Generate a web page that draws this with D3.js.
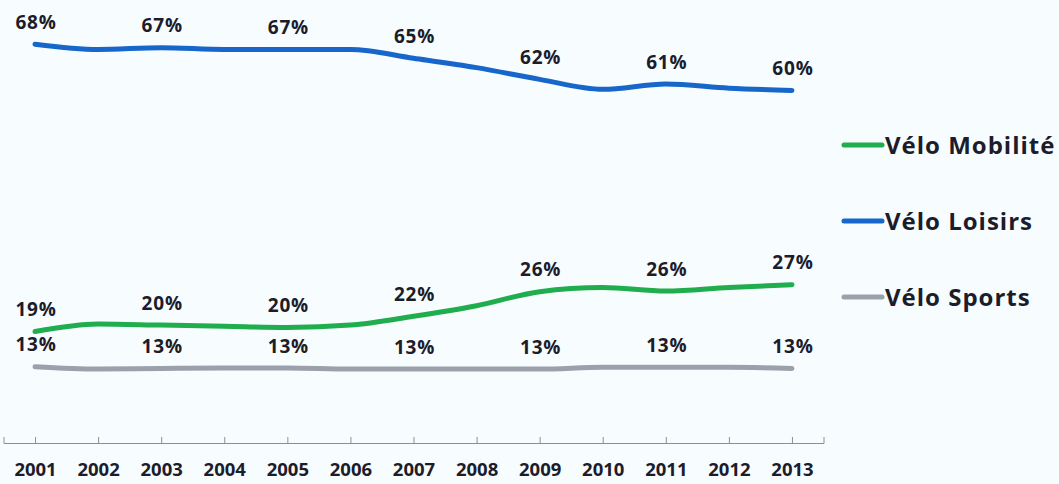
<!DOCTYPE html>
<html>
<head>
<meta charset="utf-8">
<title>Vélo</title>
<script src="https://cdn.jsdelivr.net/npm/d3@7"></script>
<style>
  body { margin: 0; background: #f7fcff; }
  svg { display: block; }
  text { font-family: "Open Sans", Lato, sans-serif; font-weight: bold; fill: #1c1c2a; }
</style>
</head>
<body>
<svg id="chart" width="1059" height="484"></svg>
<script>
// data
const years = ["2001","2002","2003","2004","2005","2006","2007","2008","2009","2010","2011","2012","2013"];
const loisirs  = [68.0, 67.1, 67.4, 67.1, 67.1, 67.1, 65.6, 64.0, 62.0, 60.3, 61.2, 60.5, 60.1];
const mobilite = [19.0, 20.3, 20.1, 19.9, 19.7, 20.1, 21.6, 23.4, 25.8, 26.5, 25.9, 26.5, 27.0];
const sports   = [13.0, 12.6, 12.7, 12.8, 12.8, 12.6, 12.6, 12.6, 12.6, 12.9, 12.9, 12.9, 12.7];
const labelYears = ["2001","2003","2005","2007","2009","2011","2013"];
const loisirsLabels  = ["68%","67%","67%","65%","62%","61%","60%"];
const mobiliteLabels = ["19%","20%","20%","22%","26%","26%","27%"];
const sportsLabels   = ["13%","13%","13%","13%","13%","13%","13%"];

const series = [
  {name: "Vélo Mobilité", values: mobilite, labels: mobiliteLabels, color: "#1fad4e"},
  {name: "Vélo Loisirs",  values: loisirs,  labels: loisirsLabels,  color: "#1766c9"},
  {name: "Vélo Sports",   values: sports,   labels: sportsLabels,   color: "#9aa1ab"}
];

const svg = d3.select("#chart");

let x = d3.scalePoint()
  .domain(years)
  .range([3.5, 823.5])
  .padding(0.5);

let y = d3.scaleLinear()
  .domain([0, 70])
  .range([443, 443 - 70 * 5.865]);

// axis
let axis = svg.append("g")
  .attr("transform", "translate(0,443)")
  .call(d3.axisBottom(x).tickSizeInner(-6).tickSizeOuter(-6).tickPadding(20));
axis.select(".domain").attr("stroke", "#8a9096");
axis.selectAll(".tick line").attr("stroke", "#8a9096");
axis.selectAll(".tick text")
  .attr("font-family", "'Open Sans', sans-serif")
  .attr("font-weight", "bold")
  .attr("font-size", "18.5px")
  .attr("fill", "#1c1c2a");

const line = d3.line()
  .x(function(d, i){ return x(years[i]); })
  .y(function(d){ return y(d); })
  .curve(d3.curveMonotoneX);

svg.selectAll("path.serie")
  .data(series)
  .enter()
  .append("path")
  .attr("class", "serie")
  .attr("d", function(d){ return line(d.values); })
  .attr("fill", "none")
  .attr("stroke", function(d){ return d.color; })
  .attr("stroke-width", 5)
  .attr("stroke-linecap", "round")
  .attr("stroke-linejoin", "round");

// value labels on odd years
series.forEach(function(s){
  svg.selectAll(null)
    .data(s.labels)
    .enter()
    .append("text")
    .text(function(d){ return d; })
    .attr("x", function(d, i){ return x(labelYears[i]) + 1; })
    .attr("y", function(d, i){ return y(s.values[years.indexOf(labelYears[i])]) - 22; })
    .attr("dy", "0.35em")
    .attr("text-anchor", "middle")
    .attr("font-size", "19px")
    .attr("letter-spacing", "0.8px");
});

// legend
let legend = svg.selectAll("g.legend")
  .data(series)
  .enter()
  .append("g")
  .attr("class", "legend")
  .attr("transform", function(d, i){ return "translate(844," + (145 + i * 76) + ")"; });

legend.append("line")
  .attr("x1", 0).attr("x2", 38)
  .attr("stroke", function(d){ return d.color; })
  .attr("stroke-width", 5)
  .attr("stroke-linecap", "round");

legend.append("text")
  .text(function(d){ return d.name; })
  .attr("x", 41)
  .attr("dy", "0.36em")
  .attr("font-size", "24px")
  .attr("letter-spacing", "1px");
</script>
</body>
</html>
